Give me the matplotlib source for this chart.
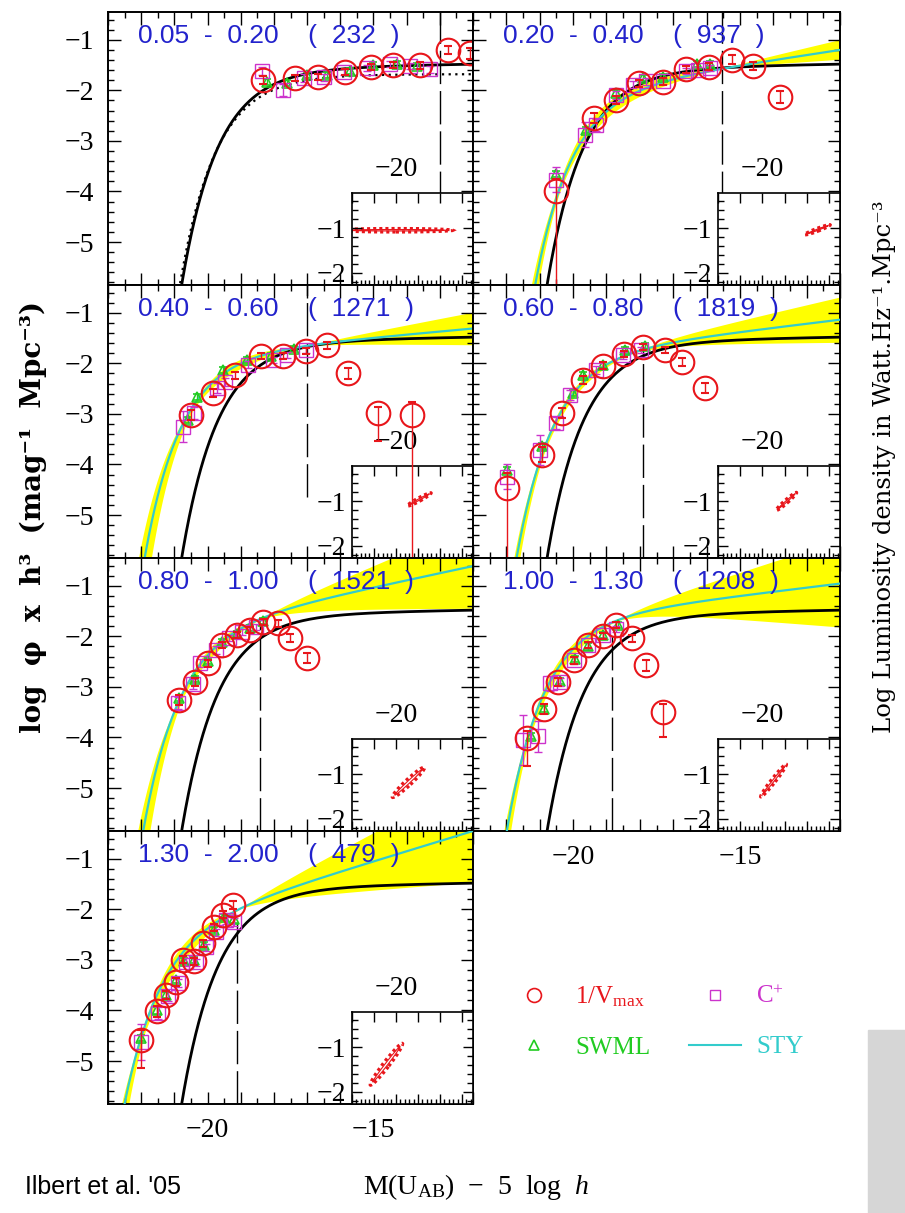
import numpy as np
import matplotlib
matplotlib.use("Agg")
import matplotlib.pyplot as plt
from matplotlib.ticker import MultipleLocator, FuncFormatter
from matplotlib.patches import Ellipse, Rectangle
from matplotlib.lines import Line2D

# redshift bins
z_lo = [0.05, 0.20, 0.40, 0.60, 0.80, 1.00, 1.30]
z_hi = [0.20, 0.40, 0.60, 0.80, 1.00, 1.30, 2.00]
n_gal = [232, 937, 1271, 1819, 1521, 1208, 479]
# completeness limit and the range of log(phi) over which its dashed line is shown
m_lim = [-13.0, -15.55, -17.0, -17.9, -18.42, -18.82, -19.12]
m_lim_top = [-0.45, -0.45, -0.45, -1.67, -1.75, -1.84, -2.27]
m_lim_bot = [-5.85, -5.85, -4.65, -5.85, -5.85, -5.85, -5.85]

# 1/Vmax estimator
vmax_m = [
    [-18.32, -17.37, -16.67, -15.86, -15.06, -14.41, -13.60, -12.75, -12.10],
    [-20.51, -19.38, -18.70, -18.02, -17.32, -16.62, -15.93, -15.25, -14.61, -13.81],
    [-20.51, -19.83, -19.17, -18.40, -17.74, -17.04, -16.41, -15.76, -14.86, -13.83],
    [-21.99, -20.94, -20.34, -19.70, -19.10, -18.48, -17.90, -17.25, -16.75, -16.05],
    [-20.85, -20.38, -19.98, -19.55, -19.12, -18.72, -18.32, -17.87, -17.52, -17.01],
    [-21.37, -20.87, -20.44, -19.98, -19.55, -19.10, -18.70, -18.22, -17.80, -17.30],
    [-22.02, -21.53, -21.25, -20.95, -20.73, -20.41, -20.13, -19.81, -19.53, -19.24],
]
vmax_phi = [
    [-1.80, -1.76, -1.73, -1.63, -1.53, -1.50, -1.50, -1.20, -1.27],
    [-4.00, -2.55, -2.19, -1.86, -1.83, -1.58, -1.53, -1.39, -1.52, -2.13],
    [-3.02, -2.59, -2.24, -1.86, -1.86, -1.76, -1.64, -2.20, -2.99, -3.02],
    [-4.47, -3.81, -2.99, -2.33, -2.05, -1.81, -1.67, -1.73, -1.97, -2.49],
    [-3.26, -2.90, -2.53, -2.17, -1.97, -1.87, -1.71, -1.74, -2.04, -2.43],
    [-4.02, -3.44, -2.90, -2.47, -2.17, -1.99, -1.78, -2.04, -2.57, -3.49],
    [-4.58, -4.02, -3.69, -3.43, -3.00, -3.03, -2.67, -2.35, -2.11, -1.91],
]
vmax_ehi = [
    [0.08, 0.06, 0.06, 0.06, 0.06, 0.06, 0.07, 0.08, 0.10],
    [0.25, 0.10, 0.08, 0.07, 0.07, 0.07, 0.07, 0.08, 0.08, 0.12],
    [0.10, 0.08, 0.07, 0.06, 0.06, 0.06, 0.07, 0.10, 0.12, 0.25],
    [0.30, 0.15, 0.10, 0.08, 0.07, 0.06, 0.06, 0.06, 0.08, 0.10],
    [0.10, 0.08, 0.07, 0.06, 0.06, 0.06, 0.06, 0.07, 0.08, 0.10],
    [0.15, 0.10, 0.08, 0.07, 0.06, 0.06, 0.06, 0.07, 0.10, 0.15],
    [0.20, 0.10, 0.08, 0.08, 0.07, 0.07, 0.07, 0.07, 0.07, 0.08],
]
vmax_elo = [
    [0.08, 0.06, 0.06, 0.06, 0.06, 0.06, 0.07, 0.08, 0.10],
    [9.00, 0.10, 0.08, 0.07, 0.07, 0.07, 0.07, 0.08, 0.08, 0.12],
    [0.10, 0.08, 0.07, 0.06, 0.06, 0.06, 0.07, 0.10, 0.55, 9.00],
    [9.00, 0.15, 0.10, 0.08, 0.07, 0.06, 0.06, 0.06, 0.08, 0.10],
    [0.10, 0.08, 0.07, 0.06, 0.06, 0.06, 0.06, 0.07, 0.08, 0.10],
    [0.55, 0.10, 0.08, 0.07, 0.06, 0.06, 0.06, 0.07, 0.12, 0.50],
    [0.55, 0.10, 0.08, 0.08, 0.07, 0.07, 0.07, 0.07, 0.07, 0.08],
]

# C+ estimator
cplus_m = [
    [-18.37, -17.74, -17.10, -16.50, -15.90, -15.20, -14.50, -13.90, -13.30],
    [-20.51, -19.65, -19.30, -18.70, -18.20, -17.80, -17.32, -16.62, -16.25, -15.90],
    [-20.73, -20.40, -19.73, -19.48, -18.77, -18.02, -17.60, -17.04],
    [-21.99, -20.99, -20.51, -20.10, -19.30, -18.50, -17.97],
    [-20.90, -20.45, -20.23, -19.75, -19.35, -18.95, -18.55],
    [-21.50, -21.06, -20.69, -20.40, -19.98, -19.55, -19.10, -18.70],
    [-22.02, -21.50, -21.20, -20.90, -20.65, -20.35, -20.05, -19.75, -19.45, -19.20],
]
cplus_phi = [
    [-1.62, -1.99, -1.75, -1.74, -1.64, -1.56, -1.48, -1.52, -1.58],
    [-3.77, -2.88, -2.68, -2.10, -1.89, -1.82, -1.82, -1.62, -1.60, -1.55],
    [-3.25, -2.99, -2.49, -2.36, -2.03, -1.93, -1.83, -1.73],
    [-4.24, -3.71, -3.18, -2.63, -2.13, -1.84, -1.74],
    [-3.32, -2.95, -2.53, -2.27, -2.04, -1.92, -1.82],
    [-4.05, -3.98, -2.93, -2.90, -2.47, -2.17, -1.98, -1.85],
    [-4.62, -4.05, -3.72, -3.45, -3.05, -3.05, -2.75, -2.45, -2.22, -2.25],
]
cplus_err = [
    [0.08, 0.12, 0.08, 0.07, 0.06, 0.06, 0.06, 0.06, 0.07],
    [0.25, 0.25, 0.12, 0.08, 0.07, 0.07, 0.06, 0.06, 0.06, 0.06],
    [0.30, 0.12, 0.10, 0.08, 0.07, 0.06, 0.06, 0.06],
    [0.25, 0.30, 0.12, 0.10, 0.08, 0.07, 0.06],
    [0.12, 0.10, 0.08, 0.07, 0.06, 0.06, 0.06],
    [0.50, 0.30, 0.15, 0.08, 0.07, 0.06, 0.06, 0.06],
    [0.35, 0.12, 0.10, 0.08, 0.08, 0.07, 0.07, 0.07, 0.07, 0.08],
]

# SWML estimator
swml_m = [
    [-18.20, -17.60, -17.00, -16.40, -15.70, -15.00, -14.30, -13.70],
    [-20.51, -19.60, -18.70, -17.90, -17.30, -16.30, -15.90],
    [-20.60, -20.33, -19.53, -18.80, -18.10, -17.40],
    [-21.99, -20.94, -20.00, -19.70, -19.10, -18.45, -17.85],
    [-20.85, -20.38, -19.98, -19.55, -19.12, -18.72, -18.32],
    [-21.27, -20.87, -20.40, -19.95, -19.55, -19.10, -18.65],
    [-22.02, -21.53, -21.25, -20.95, -20.70, -20.40, -20.10, -19.80, -19.50, -19.20],
]
swml_phi = [
    [-1.83, -1.85, -1.70, -1.70, -1.62, -1.50, -1.47, -1.52],
    [-3.66, -2.78, -2.05, -1.76, -1.74, -1.48, -1.48],
    [-3.12, -2.66, -2.13, -1.93, -1.85, -1.72],
    [-4.11, -3.64, -2.59, -2.23, -2.03, -1.74, -1.66],
    [-3.22, -2.85, -2.48, -2.12, -1.95, -1.83, -1.70],
    [-3.98, -3.44, -2.88, -2.45, -2.20, -1.97, -1.78],
    [-4.55, -4.00, -3.70, -3.40, -3.02, -3.00, -2.70, -2.40, -2.15, -2.20],
]

# STY Schechter fits (first bin shows the reference only)
sty_mstar = [None, -18.8, -19.5, -19.3, -19.57, -19.55, -20.3]
sty_alpha = [None, -1.25, -1.15, -1.20, -1.35, -1.20, -1.50]
sty_logphi = [None, -1.844, -1.724, -1.684, -1.634, -1.524, -2.074]
# correlated (M*, alpha) errors that set the yellow band
band_dalpha = [None, 0.14, 0.165, 0.185, 0.34, 0.33, 0.37]
band_dmstar = [None, 0.15, 0.24, 0.12, 0.29, 0.18, 0.25]
band_pivot = [None, -15.5, -17.0, -18.2, -18.4, -18.7, -19.0]

# reference (low-z) Schechter function and dotted comparison in first bin
ref_mstar, ref_alpha, ref_logphi = -18.3, -1.03, -1.52
dot_mstar, dot_alpha, dot_logphi = -18.38, -1.0, -1.644

# error contours (M*, alpha) for the insets
ell_m1 = [-21.3, -19.05, -19.74, -19.69, -20.08, -20.04, -20.58]
ell_a1 = [-1.05, -1.15, -1.11, -1.21, -1.52, -1.51, -1.85]
ell_m2 = [-18.7, -18.47, -19.20, -19.23, -19.35, -19.46, -19.85]
ell_a2 = [-1.05, -0.93, -0.82, -0.81, -0.85, -0.78, -0.92]
ell_w = [0.08, 0.07, 0.08, 0.08, 0.14, 0.10, 0.14]

RED = "#e8161b"
MAG = "#cc33cc"
GRN = "#22cc22"
CYAN = "#33cccc"
YEL = "#ffff00"
BLUE = "#2222cc"

plt.rcParams["font.family"] = ["Liberation Serif", "DejaVu Serif"]
plt.rcParams["mathtext.fontset"] = "custom"
plt.rcParams["mathtext.rm"] = "Liberation Serif"
plt.rcParams["mathtext.it"] = "Liberation Serif:italic"
plt.rcParams["mathtext.bf"] = "Liberation Serif:bold"


def schechter(M, mstar, alpha, logphi):
    x = 0.4 * (mstar - M)
    return np.log10(0.4 * np.log(10)) + logphi + (alpha + 1) * x - 10 ** x / np.log(10)


W, H = 905, 1213
fig = plt.figure(figsize=(W / 100, H / 100), dpi=100)
Mgrid = np.linspace(-23, -12, 500)

for i in range(7):
    row, col = divmod(i, 2)
    top = 12 + 273 * row
    left = 108 if col == 0 else 473
    width = 365 if col == 0 else 367
    ax = fig.add_axes([left / W, 1 - (top + 273) / H, width / W, 273 / H])
    ax.set_xlim(-23, -12)
    ax.set_ylim(-5.85, -0.45)

    ref = schechter(Mgrid, ref_mstar, ref_alpha, ref_logphi)
    if sty_mstar[i] is not None:
        ms, al, lp = sty_mstar[i], sty_alpha[i], sty_logphi[i]
        nom = schechter(Mgrid, ms, al, lp)
        ref_p = schechter(band_pivot[i], ms, al, lp)
        curves = [nom]
        for sgn in (-1, 0, 1):
            for jit in (-0.05, 0.05):
                m2 = ms + sgn * band_dmstar[i] + jit
                a2 = al + sgn * band_dalpha[i]
                lp2 = ref_p - schechter(band_pivot[i], m2, a2, 0.0)
                curves.append(schechter(Mgrid, m2, a2, lp2))
        curves = np.array(curves)
        ax.fill_between(Mgrid, curves.min(axis=0), curves.max(axis=0),
                        color=YEL, lw=0, zorder=1)
        ax.plot(Mgrid, nom, color=CYAN, lw=1.6, zorder=3)
    else:
        dot = schechter(Mgrid, dot_mstar, dot_alpha, dot_logphi)
        ax.plot(Mgrid, dot, color="k", lw=1.6, ls=(0, (1, 2)), zorder=2)
    ax.plot(Mgrid, ref, color="k", lw=2, zorder=2)
    ax.vlines(m_lim[i], m_lim_bot[i], m_lim_top[i], color="k", lw=1,
              linestyles=[(0, (24, 5))], zorder=2)

    ax.errorbar(swml_m[i], swml_phi[i], yerr=0.06, fmt="^", ms=7, mfc="none",
                mec=GRN, ecolor=GRN, mew=1.2, elinewidth=1, capsize=3, zorder=6)
    ax.errorbar(cplus_m[i], cplus_phi[i], yerr=cplus_err[i], fmt="s", ms=10,
                mfc="none", mec=MAG, ecolor=MAG, mew=1.0, elinewidth=1,
                capsize=3, zorder=7)
    ax.errorbar(vmax_m[i], vmax_phi[i], yerr=[vmax_elo[i], vmax_ehi[i]], fmt="o",
                ms=17, mfc="none", mec=RED, ecolor=RED, mew=1.5, elinewidth=1,
                capsize=3, zorder=8)

    ax.text(0.082, 0.912,
            f"{z_lo[i]:.2f}  -  {z_hi[i]:.2f}    (  {n_gal[i]}  )",
            transform=ax.transAxes, color=BLUE, fontsize=19,
            family=["Liberation Sans", "DejaVu Sans"], va="center", zorder=9)

    ax.xaxis.set_major_locator(MultipleLocator(1))
    ax.xaxis.set_minor_locator(MultipleLocator(0.5))
    ax.yaxis.set_major_locator(MultipleLocator(1))
    ax.yaxis.set_minor_locator(MultipleLocator(0.2))
    ax.xaxis.set_major_formatter(FuncFormatter(
        lambda v, p: f"\u2212{int(round(-v))}" if abs(v % 5) < 1e-6 else ""))
    ax.tick_params(which="both", direction="in", top=True, right=True,
                   labelsize=20, width=1)
    ax.tick_params(which="major", length=9, pad=10)
    ax.tick_params(which="minor", length=4.5)
    ax.tick_params(labelleft=(col == 0), labelbottom=(i in (5, 6)))
    for s in ax.spines.values():
        s.set_linewidth(1.4)

    # inset with error contour on (M*, alpha)
    axin = ax.inset_axes([0.668, 0.0, 0.332, 0.337])
    axin.set_facecolor("white")
    axin.set_xlim(-21.0, -18.25)
    axin.set_ylim(-2.27, -0.22)
    cm = 0.5 * (ell_m1[i] + ell_m2[i])
    ca = 0.5 * (ell_a1[i] + ell_a2[i])
    length = np.hypot(ell_m2[i] - ell_m1[i], ell_a2[i] - ell_a1[i])
    ang = np.degrees(np.arctan2(ell_a2[i] - ell_a1[i], ell_m2[i] - ell_m1[i]))
    axin.add_patch(Ellipse((cm, ca), length, ell_w[i], angle=ang, fc="none",
                           ec=RED, lw=2.2, ls=(0, (1, 1))))
    axin.add_patch(Ellipse((cm, ca), length * 0.85, ell_w[i] * 0.4, angle=ang,
                           fc="none", ec=RED, lw=0.8))
    axin.xaxis.set_major_locator(MultipleLocator(0.5))
    axin.xaxis.set_minor_locator(MultipleLocator(0.1))
    axin.yaxis.set_major_locator(MultipleLocator(1))
    axin.yaxis.set_minor_locator(MultipleLocator(0.2))
    axin.xaxis.set_major_formatter(FuncFormatter(
        lambda v, p: "\u221220" if abs(v + 20) < 1e-6 else ""))
    axin.tick_params(which="both", direction="in", top=True, right=True,
                     bottom=True, left=True, labelsize=20, width=1,
                     labeltop=True, labelbottom=False)
    axin.tick_params(which="major", length=7, pad=4)
    axin.tick_params(axis="x", which="major", pad=8)
    axin.tick_params(axis="x", which="minor", length=3.5, top=False)
    axin.tick_params(axis="y", which="minor", length=4)
    for s in axin.spines.values():
        s.set_linewidth(1.2)

# axis labels and notes
fig.text(33 / W, 1 - 517 / H, "log  \u03c6  x  h\u00b3  (mag\u207b\u00b9  Mpc\u207b\u00b3)",
         rotation=90, ha="center", va="center", fontsize=20, fontweight="bold",
         family=["DejaVu Serif"])
fig.text(884 / W, 1 - 467 / H,
         "Log Luminosity density in Watt.Hz\u207b\u00b9.Mpc\u207b\u00b3",
         rotation=90, ha="center", va="center", fontsize=17.5,
         family=["DejaVu Serif"])
fig.text(476 / W, 1 - 1187 / H, r"M(U$_{\rm AB}$)  $-$  5  log  $h$",
         ha="center", va="center", fontsize=20)
fig.text(25 / W, 1 - 1187 / H, "Ilbert et al. '05", ha="left", va="center",
         fontsize=18, family=["Liberation Sans", "DejaVu Sans"])

# legend in the empty slot
handles = [
    Line2D([], [], ls="none", marker="o", ms=10, mfc="none", color=RED, mew=1.2),
    Line2D([], [], ls="none", marker="^", ms=7, mfc="none", color=GRN, mew=1.2),
    Line2D([], [], ls="none", marker="s", ms=7, mfc="none", color=MAG, mew=1.0),
    Line2D([], [], color=CYAN, lw=1.5),
]
labels = [r"1/V$_{\rm max}$", "SWML", r"C$^{+}$", "STY"]
leg = fig.legend(handles, labels, ncol=2, loc="upper left",
                 bbox_to_anchor=(0.536, 0.207), frameon=False, fontsize=18,
                 handlelength=2.1, columnspacing=1.55, labelspacing=1.1,
                 handletextpad=0.6)
for t, c in zip(leg.get_texts(), [RED, GRN, MAG, CYAN]):
    t.set_color(c)

# grey strip in the lower right corner
fig.patches.append(Rectangle((868 / W, 0), 37 / W, 183 / H,
                             transform=fig.transFigure, color="#d6d6d6", zorder=0))

fig.savefig("out.png", dpi=100)
